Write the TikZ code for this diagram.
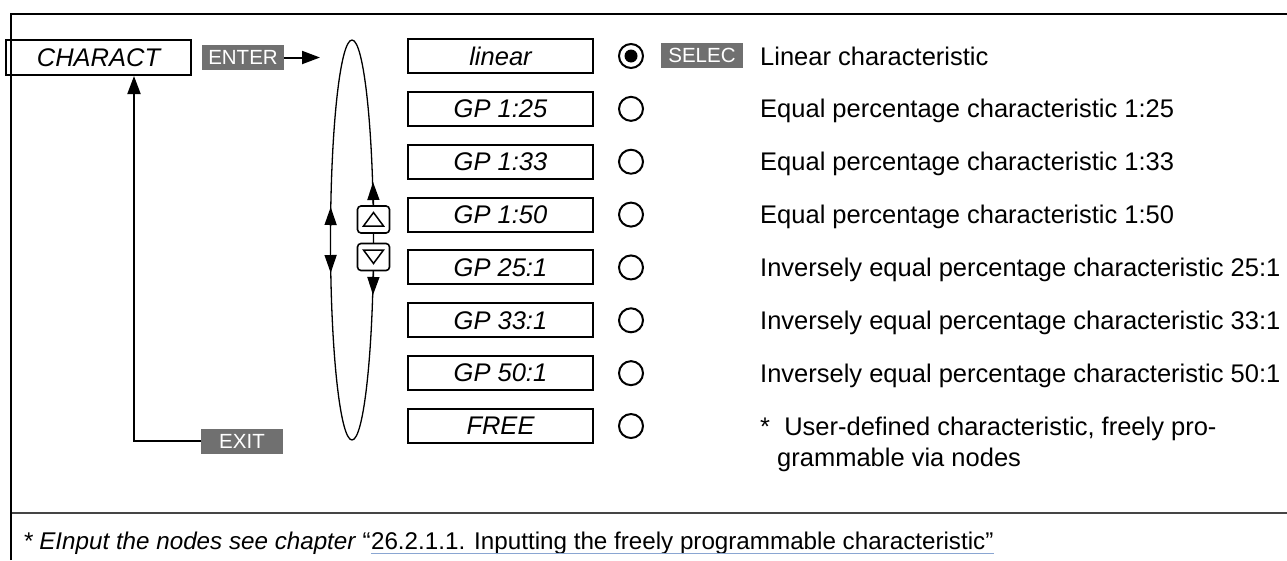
\documentclass[tikz,border=0pt]{standalone}
\usepackage{fontspec}
\setmainfont{Liberation Sans}
\usetikzlibrary{arrows.meta,shapes.geometric}
\definecolor{keygray}{HTML}{707070}
\definecolor{sepgray}{HTML}{454545}
\definecolor{linkblue}{HTML}{8AA6D2}
\begin{document}
\begin{tikzpicture}[x=1pt,y=-1pt,
  valbox/.style={draw,line width=2pt,minimum width=185pt,minimum height=34pt,inner sep=0pt,font=\fontsize{25.5}{30}\selectfont\itshape},
  keybox/.style={fill=keygray,text=white,inner sep=0pt,minimum width=82pt,minimum height=25pt,font=\fontsize{20.5}{22}\selectfont},
  desc/.style={anchor=base west,inner sep=0pt,font=\fontsize{25.5}{30}\selectfont},
  radio/.style={circle,draw,line width=2pt,minimum size=24pt,inner sep=0pt},
  radiodot/.style={circle,fill,minimum size=13pt,inner sep=0pt},
  thickarrow/.style={-{Triangle[length=18pt,width=13pt]},line width=2pt},
  looparrow/.style={-{Triangle[length=18pt,width=12pt]},line width=1.4pt},
  btn/.style={draw,fill=white,rounded corners=3.5pt,line width=1.6pt,minimum width=32pt,minimum height=27pt,inner sep=0pt},
  fnfont/.style={anchor=base west,inner sep=0pt,font=\fontsize{24.2}{29}\selectfont},
]
\useasboundingbox (0,0) rectangle (1287,560);
% separator
\draw[line width=1.8pt,sepgray] (11,513) -- (1287,513);

% CHARACT box
\node[draw,line width=2pt,minimum width=185pt,minimum height=35pt,inner sep=0pt,font=\fontsize{25.5}{30}\selectfont\itshape] (charact) at (98.5,57.5) {CHARACT};
% frame
\draw[line width=2.2pt] (11,560) -- (11,14) -- (1287,14);

% ENTER
\node[keybox] (enter) at (243,57.5) {ENTER};
\coordinate (ein) at (320,57.5);
\draw[thickarrow] (enter.east) -- (ein);

% EXIT
\node[keybox] (exit) at (242,441) {EXIT};
\coordinate (ret) at (134,441);
\draw[thickarrow] (exit.west) -- (ret) -- (ret |- charact.south);

% loop
\node[ellipse,draw,line width=1.3pt,minimum width=43pt,minimum height=400pt,inner sep=0pt] (loop) at (352,240) {};
\draw[looparrow] (330.6,226) -- (330.7,207);
\draw[looparrow] (330.6,255) -- (330.7,273);

% buttons
\node[btn] (up) at (373.5,219.5) {};
\node[btn] (down) at (373.5,257) {};
\draw[line width=1.6pt] (up.south) -- (down.north);
\draw[line width=1.5pt,line join=miter] (363.5,226) -- (383.5,226) -- (373.5,212.5) -- cycle;
\draw[line width=1.5pt,line join=miter] (363.5,250) -- (383.5,250) -- (373.5,263.5) -- cycle;
\coordinate (uptip) at (373,182);
\coordinate (dntip) at (373,295);
\draw[looparrow] (up.north) -- (uptip);
\draw[looparrow] (down.south) -- (dntip);

% value boxes and radios
\foreach \t [count=\i from 0] in {linear,GP 1:25,GP 1:33,GP 1:50,GP 25:1,GP 33:1,GP 50:1,FREE}{
  \node[valbox] (v\i) at (500.5,{56+52.86*\i}) {\t};
  \node[radio] (r\i) at (631,{56+52.86*\i}) {};
}
\node[radiodot] (sel) at (r0) {};
\node[keybox] (selec) at (702,55.5) {SELEC};

% descriptions
\node[desc] (d0) at (760,65) {Linear characteristic};
\node[desc] (d1) at (760,117.9) {Equal percentage characteristic 1:25};
\node[desc] (d2) at (760,170.7) {Equal percentage characteristic 1:33};
\node[desc] (d3) at (760,223.6) {Equal percentage characteristic 1:50};
\node[desc] (d4) at (760,276.4) {Inversely equal percentage characteristic 25:1};
\node[desc] (d5) at (760,329.3) {Inversely equal percentage characteristic 33:1};
\node[desc] (d6) at (760,382.2) {Inversely equal percentage characteristic 50:1};
\node[desc] (d7) at (760,435) {*\ \ User-defined characteristic, freely pro-};
\node[desc] (d7b) at (777,466) {grammable via nodes};

% footnote
\node[fnfont] (fnA) at (23,549) {\itshape * EInput the nodes see chapter};
\node[fnfont] (fnQ) at ([xshift=6.7pt]fnA.base east) {“};
\node[fnfont] (fnB) at (fnQ.base east) {26.2.1.1. Inputting the freely programmable characteristic”};
\draw[linkblue,line width=1.8pt] ([yshift=-4.5pt]fnB.base west) -- ([yshift=-4.5pt]fnB.base east);
\end{tikzpicture}
\end{document}
